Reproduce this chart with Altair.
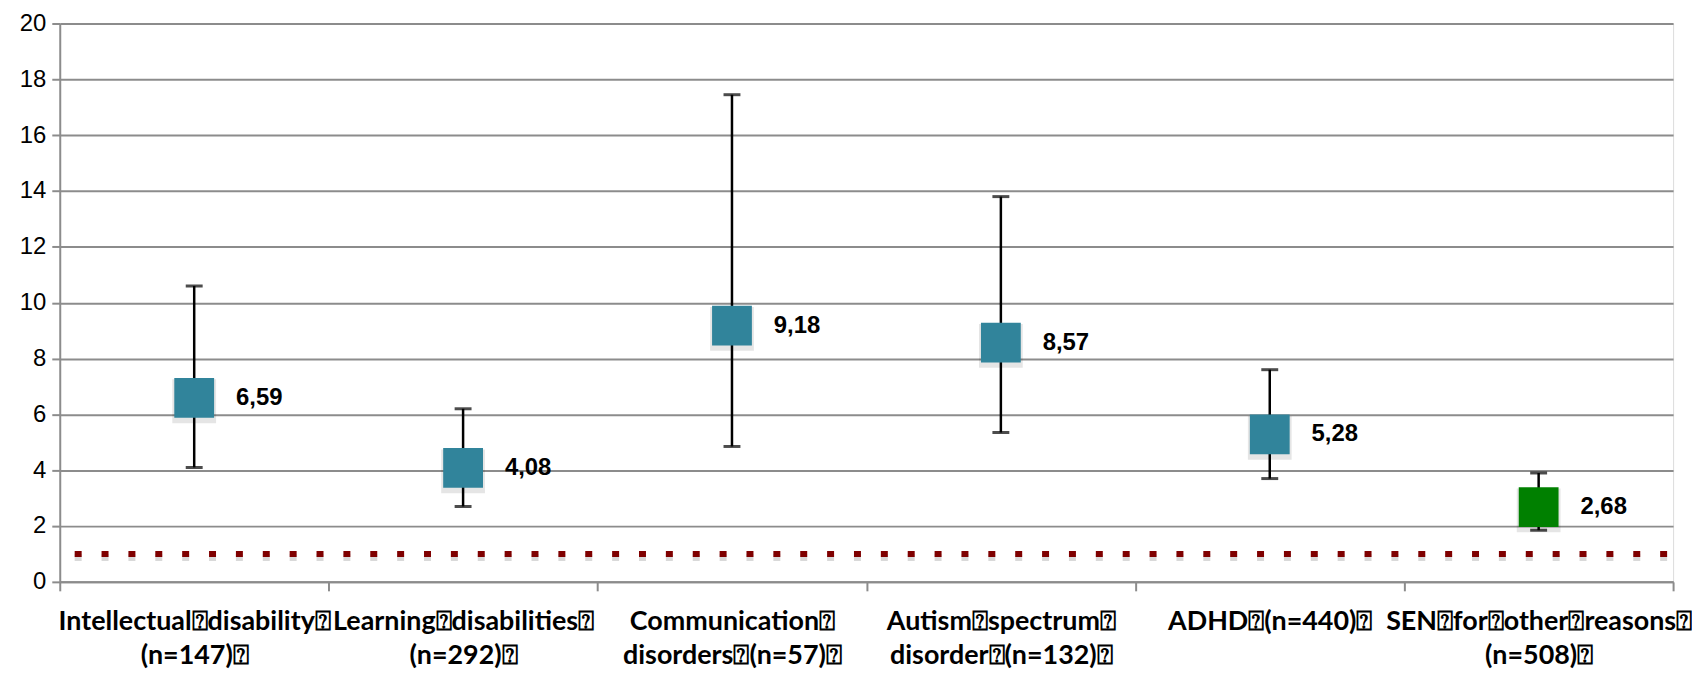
import altair as alt
import pandas as pd

categories = [
    "Intellectual⍰disability⍰\n(n=147)⍰",
    "Learning⍰disabilities⍰\n(n=292)⍰",
    "Communication⍰\ndisorders⍰(n=57)⍰",
    "Autism⍰spectrum⍰\ndisorder⍰(n=132)⍰",
    "ADHD⍰(n=440)⍰",
    "SEN⍰for⍰other⍰reasons⍰\n(n=508)⍰",
]
values = [6.59, 4.08, 9.18, 8.57, 5.28, 2.68]
lower = [4.10, 2.70, 4.85, 5.35, 3.70, 1.85]
upper = [10.60, 6.20, 17.45, 13.80, 7.60, 3.90]
groups = ["SEN", "SEN", "SEN", "SEN", "SEN", "other"]
reference_value = [1.0]

df = pd.DataFrame({"cat": categories, "value": values, "lo": lower, "hi": upper, "grp": groups})
ref = pd.DataFrame({"ref": reference_value})

W, H = 1621, 561
GRID = "#8c8c8c"

x = alt.X(
    "cat:N",
    sort=categories,
    scale=alt.Scale(type="band", paddingInner=0, paddingOuter=0),
    axis=alt.Axis(
        title=None,
        labelExpr="split(datum.label, '\\n')",
        labelFont="Lato",
        labelFontWeight="bold",
        labelFontSize=27,
        labelLineHeight=34,
        labelColor="black",
        labelAngle=0,
        labelLimit=500,
        labelOverlap=False,
        labelPadding=18,
        tickBand="extent",
        tickSize=9,
        tickWidth=2,
        tickColor=GRID,
        domainColor=GRID,
        domainWidth=2,
        grid=False,
    ),
)
yscale = alt.Scale(domain=[0, 20], nice=False, zero=True)
y_axis = alt.Axis(
    title=None,
    values=list(range(0, 21, 2)),
    labelFont="Liberation Sans",
    labelFontSize=24,
    labelColor="black",
    labelPadding=6,
    tickSize=8,
    tickWidth=2,
    tickColor=GRID,
    domainColor=GRID,
    domainWidth=2,
    grid=True,
    gridColor=GRID,
    gridWidth=2,
)

base = alt.Chart(df)

axes_layer = base.mark_point(opacity=0).encode(
    x=x, y=alt.Y("value:Q", scale=yscale, axis=y_axis)
)

ref_shadow = alt.Chart(ref).mark_rule(
    color="#d0d0d0", strokeWidth=7, strokeDash=[7, 20], strokeDashOffset=12, opacity=0.8
).encode(x=alt.value(0), x2=alt.value(W), y=alt.Y("ref_s:Q", scale=yscale)).transform_calculate(
    ref_s="datum.ref - 0.13"
)
ref_line = alt.Chart(ref).mark_rule(
    color="#7f0000", strokeWidth=6, strokeDash=[7, 20], strokeDashOffset=12
).encode(x=alt.value(0), x2=alt.value(W), y=alt.Y("ref:Q", scale=yscale))

err = base.mark_rule(color="black", strokeWidth=2.5).encode(
    x=x, y=alt.Y("lo:Q", scale=yscale), y2="hi:Q"
)
cap_lo = base.mark_tick(color="black", size=17, thickness=3).encode(
    x=x, y=alt.Y("lo:Q", scale=yscale)
)
cap_hi = base.mark_tick(color="black", size=17, thickness=3).encode(
    x=x, y=alt.Y("hi:Q", scale=yscale)
)

shadow = base.mark_square(size=44 * 44, color="black", opacity=0.10, filled=True).encode(
    x=x, y=alt.Y("vs:Q", scale=yscale)
).transform_calculate(vs="datum.value - 0.12")

squares = base.mark_square(size=40 * 40, filled=True, opacity=1).encode(
    x=x,
    y=alt.Y("value:Q", scale=yscale),
    color=alt.Color(
        "grp:N",
        scale=alt.Scale(domain=["SEN", "other"], range=["#31849b", "#008000"]),
        legend=None,
    ),
)

labels = base.mark_text(
    align="left", baseline="middle", dx=42, font="Liberation Sans", fontWeight="bold",
    fontSize=24, color="black"
).encode(
    x=x, y=alt.Y("value:Q", scale=yscale), text="lbl:N"
).transform_calculate(lbl="replace(format(datum.value, '.2f'), '.', ',')")

chart = alt.layer(
    axes_layer, ref_shadow, ref_line, err, cap_lo, cap_hi, shadow, squares, labels
).properties(
    width=W,
    height=H,
    autosize=alt.AutoSizeParams(type="none"),
    padding={"left": 52, "top": 14, "right": 19, "bottom": 94},
).configure_view(stroke=None).configure(background="white")

chart.save("out.html", embed_options={"renderer": "svg", "actions": False})
